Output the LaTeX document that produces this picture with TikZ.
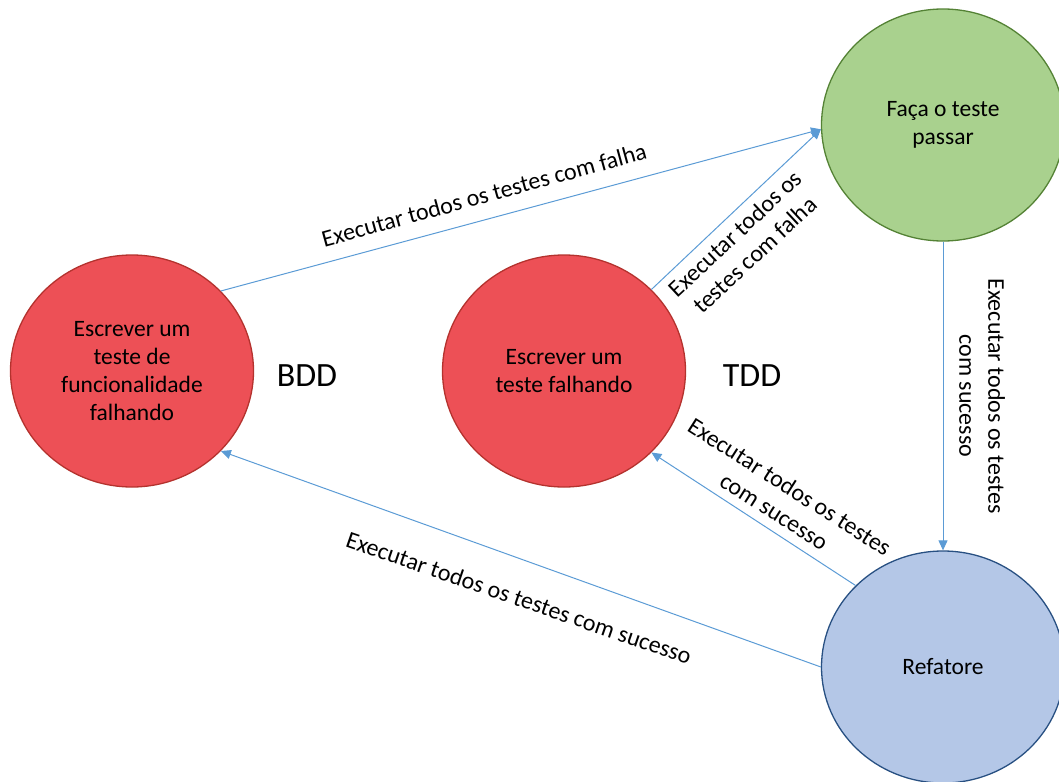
\documentclass[tikz,border=0pt]{standalone}
\usepackage{fontspec}
\setmainfont{Carlito}
\usetikzlibrary{shapes.geometric,arrows.meta}
\definecolor{redfill}{RGB}{237,80,86}
\definecolor{redline}{RGB}{180,50,46}
\definecolor{greenfill}{RGB}{169,209,142}
\definecolor{greenline}{RGB}{84,130,53}
\definecolor{bluefill}{RGB}{180,199,231}
\definecolor{blueline}{RGB}{40,80,130}
\definecolor{arrowblue}{RGB}{91,155,213}
\begin{document}
\begin{tikzpicture}[x=1pt,y=-1pt,
  stage/.style={ellipse, draw, line width=1.3pt, minimum width=243pt,
    minimum height=232pt, inner sep=0pt, align=center,
    font=\fontsize{23.5}{28}\selectfont},
  flow/.style={draw=arrowblue, line width=1pt,
    -{Triangle[length=10pt,width=9pt]}},
  lbl/.style={align=center, inner sep=0pt, font=\fontsize{24}{29}\selectfont},
  tag/.style={inner sep=0pt, font=\fontsize{34}{40}\selectfont}]
\useasboundingbox (0,0) rectangle (1059,781);

% cycle stages
\node[stage, fill=redfill, draw=redline] (bdd) at (132,371)
  {Escrever um\\teste de\\funcionalidade\\falhando};
\node[stage, fill=redfill, draw=redline] (tdd) at (564,371)
  {Escrever um\\teste falhando};
\node[stage, fill=greenfill, draw=greenline] (green) at (943,125)
  {Faça o teste\\passar};
\node[stage, fill=bluefill, draw=blueline] (blue) at (943,667)
  {Refatore};

% loop names
\node[tag] (bddtag) at (307,376) {BDD};
\node[tag] (tddtag) at (752,376) {TDD};

% transitions
\draw[flow] (bdd.42) -- (green.182);
\draw[flow] (tdd.43) -- (green.182);
\draw[flow] (green.south) -- (blue.north);
\draw[flow] (blue.137) -- (tdd.317);
\draw[flow] (blue.west) -- (bdd.318);

% transition labels
\node[lbl, rotate=15.4] (l1) at (484,195) {Executar todos os testes com falha};
\node[lbl, rotate=43] (l2) at (745,244) {Executar todos os\\testes com falha};
\node[lbl, rotate=-90] (l3) at (982,396) {Executar todos os testes\\com sucesso};
\node[lbl, rotate=-32.5] (l4) at (782,499) {Executar todos os testes\\com sucesso};
\node[lbl, rotate=-19] (l5) at (519,598) {Executar todos os testes com sucesso};
\end{tikzpicture}
\end{document}
